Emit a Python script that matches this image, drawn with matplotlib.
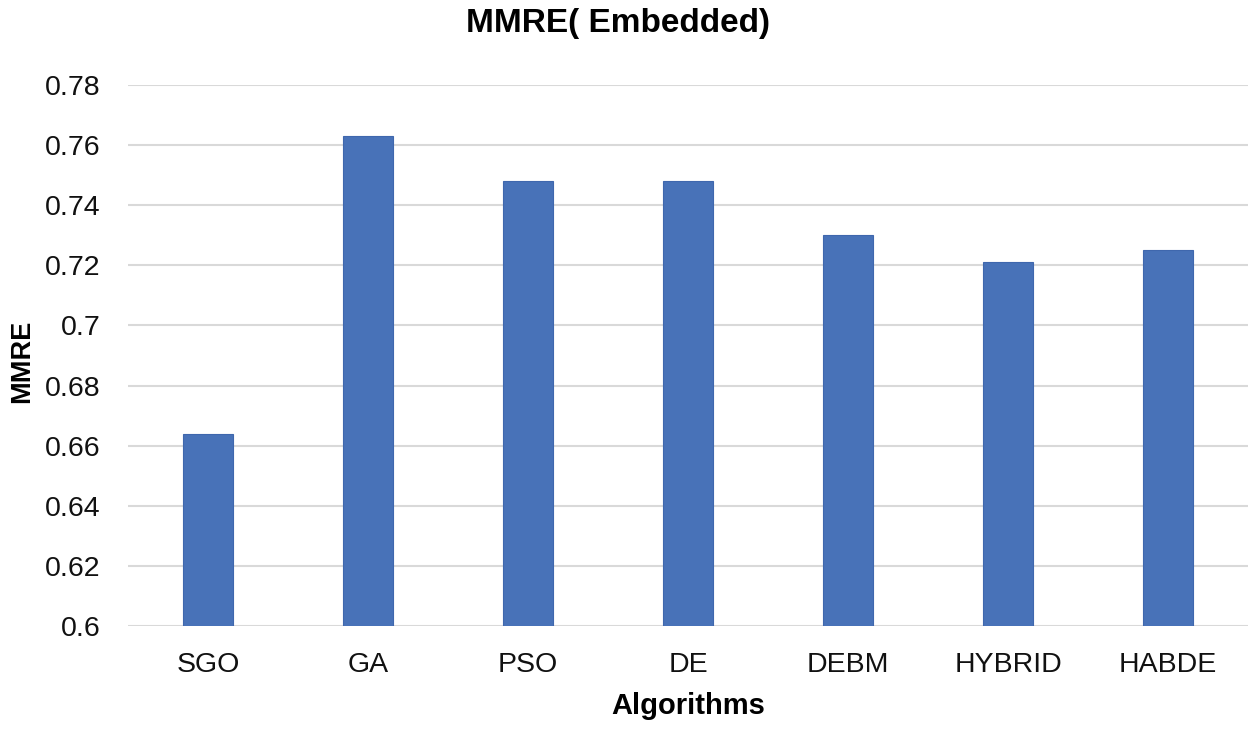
import matplotlib
matplotlib.use("Agg")
import matplotlib.pyplot as plt

plt.rcParams['font.family'] = ['Liberation Sans', 'DejaVu Sans']

algorithms = ['SGO', 'GA', 'PSO', 'DE', 'DEBM', 'HYBRID', 'HABDE']
mmre = [0.664, 0.763, 0.748, 0.748, 0.730, 0.721, 0.725]
yticks = [0.6, 0.62, 0.64, 0.66, 0.68, 0.7, 0.72, 0.74, 0.76, 0.78]
ytick_labels = ['0.6', '0.62', '0.64', '0.66', '0.68', '0.7', '0.72', '0.74', '0.76', '0.78']

fig = plt.figure(figsize=(12.5, 7.3), dpi=100)
ax = fig.add_axes([0.1025, 0.1425, 0.896, 0.741])

x = range(len(algorithms))
ax.bar(x, mmre, width=0.31, color='#4872b8', edgecolor='#3f67ad', linewidth=0.8, zorder=3)

ax.set_xlim(-0.5, len(algorithms) - 0.5)
ax.set_ylim(0.6, 0.78)
ax.set_yticks(yticks)
ax.set_yticklabels(ytick_labels)
ax.set_xticks(list(x))
ax.set_xticklabels(algorithms)
ax.grid(axis='y', color='#d9d9d9', linewidth=1.5, zorder=0)
ax.tick_params(axis='both', length=0, labelsize=20.5, colors='#111111')
ax.tick_params(axis='x', pad=19)
ax.tick_params(axis='y', pad=20)
for s in ax.spines.values():
    s.set_visible(False)

# title centred on the figure, not the axes
fig.text(0.494, 0.968, 'MMRE( Embedded)', fontsize=24, fontweight='bold',
         ha='center', va='center')
ax.set_xlabel('Algorithms', fontsize=21, fontweight='bold', labelpad=10)
ax.set_ylabel('MMRE', fontsize=19.5, fontweight='bold', va='center')
ax.yaxis.set_label_coords(-0.095, 0.49)

fig.savefig('out.png', dpi=100)
